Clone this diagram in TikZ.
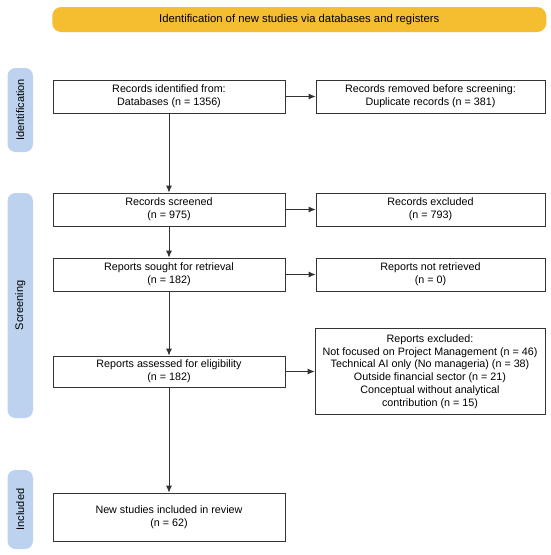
\documentclass[tikz,border=0pt]{standalone}
\usepackage{fontspec}
\setmainfont{Liberation Sans}
\usetikzlibrary{arrows.meta}
\definecolor{banner}{HTML}{F5BD30}
\definecolor{sidebar}{HTML}{BCD2EE}
\definecolor{linec}{HTML}{333333}
\begin{document}
\begin{tikzpicture}[x=1pt,y=-1pt,
  box/.style={draw=linec,line width=0.8pt,fill=white,inner sep=0pt,align=center,
    font=\fontsize{10.75}{12.8}\selectfont,text=black},
  side/.style={fill=sidebar,rounded corners=8pt,inner sep=0pt,minimum width=25.5pt},
  sidetext/.style={rotate=90,font=\fontsize{11}{12}\selectfont,text=black},
  arr/.style={draw=linec,line width=0.8pt,-{Latex[length=7pt,width=6pt]}}]
\useasboundingbox (0,0) rectangle (550,555);
\node[fill=banner,rounded corners=9pt,minimum width=494pt,minimum height=25pt,inner sep=0pt,
  font=\fontsize{11.3}{12}\selectfont] (banner) at (299.25,19.5) {Identification of new studies via databases and registers};
% side bars
\node[side,minimum height=84pt] (sid) at (20.25,110) {};
\node[sidetext] (sidt) at (sid.center) {Identification};
\node[side,minimum height=225pt] (sscr) at (20.25,305.5) {};
\node[sidetext] (sscrt) at (sscr.center) {Screening};
\node[side,minimum height=79pt] (sinc) at (20.25,509.5) {};
\node[sidetext] (sinct) at (sinc.center) {Included};
% boxes
\node[box,minimum width=232pt,minimum height=33pt] (id) at (169,96.5) {Records identified from:\\Databases (n = 1356)};
\node[box,minimum width=229pt,minimum height=33pt] (rem) at (430.5,96.5) {Records removed before screening:\\Duplicate records (n = 381)};
\node[box,minimum width=232pt,minimum height=33pt] (scr) at (169,209.5) {Records screened\\(n = 975)};
\node[box,minimum width=229pt,minimum height=33pt] (excl) at (430.5,209.5) {Records excluded\\(n = 793)};
\node[box,minimum width=232pt,minimum height=33pt] (sought) at (169,274.5) {Reports sought for retrieval\\(n = 182)};
\node[box,minimum width=229pt,minimum height=33pt] (notret) at (430.5,274.5) {Reports not retrieved\\(n = 0)};
\node[box,minimum width=232pt,minimum height=31pt] (assess) at (169,371.5) {Reports assessed for eligibility\\(n = 182)};
\node[box,minimum width=230pt,minimum height=86pt] (rexcl) at (430,371.5) {Reports excluded:\\Not focused on Project Management (n = 46)\\Technical AI only (No manageria) (n = 38)\\Outside financial sector (n = 21)\\Conceptual without analytical\\contribution (n = 15)};
\node[box,minimum width=232pt,minimum height=48pt] (new) at (169,517) {New studies included in review\\(n = 62)};
% arrows
\draw[arr] (id) -- (rem);
\draw[arr] (id) -- (scr);
\draw[arr] (scr) -- (excl);
\draw[arr] (scr) -- (sought);
\draw[arr] (sought) -- (notret);
\draw[arr] (sought) -- (assess);
\draw[arr] (assess) -- (assess -| rexcl.west);
\draw[arr] (assess) -- (new);
\end{tikzpicture}
\end{document}
